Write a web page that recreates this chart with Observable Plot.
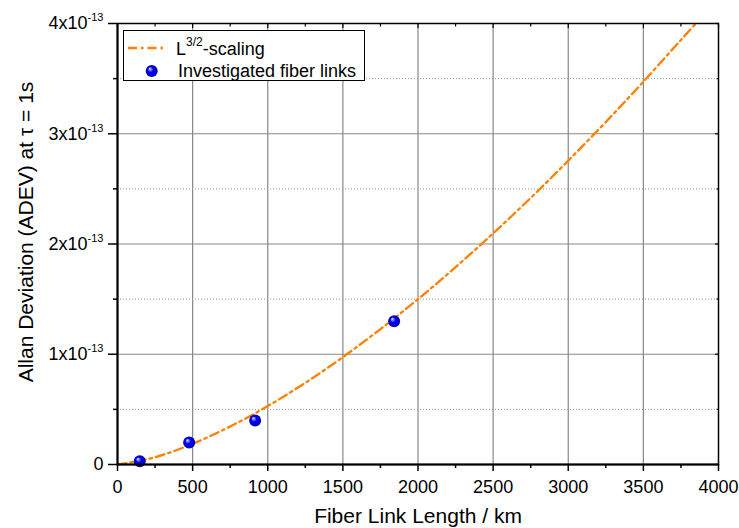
<!DOCTYPE html>
<html><head><meta charset="utf-8">
<script src="https://cdn.jsdelivr.net/npm/d3@7"></script>
<script src="https://cdn.jsdelivr.net/npm/@observablehq/plot@0.6"></script>
<style>
body{margin:0;background:#fff}
#chart{position:relative;width:739px;height:528px}
</style></head><body><div id="chart"></div>
<script>
// Measured fiber links (ADEV in units of 1e-13)
const fiberLengthKm = [148, 477, 916, 1841];
const adevMeasured = [0.03, 0.20, 0.40, 1.30];
// L^(3/2) scaling curve (units of 1e-13)
const scalingLengthKm = [0, 250, 500, 750, 1000, 1250, 1500, 1750, 2000, 2250, 2500, 2750, 3000, 3250, 3500, 3750, 3849];
const scalingAdev = [0, 0.066, 0.188, 0.345, 0.53, 0.741, 0.974, 1.228, 1.50, 1.79, 2.096, 2.418, 2.756, 3.107, 3.472, 3.851, 4.0];
// Ticks
const xMajorTicks = [0, 500, 1000, 1500, 2000, 2500, 3000, 3500, 4000];
const xMinorTicks = [250, 750, 1250, 1750, 2250, 2750, 3250, 3750];
const yMajorTicks = [0, 1, 2, 3, 4];
const yMinorTicks = [0.5, 1.5, 2.5, 3.5];
const yExponent = "-13";
// Text
const xTitle = "Fiber Link Length / km";
const yTitle = "Allan Deviation (ADEV) at \u03c4 = 1s";
const legendCurveParts = ["L", "3/2", "-scaling"];
const legendDotsLabel = "Investigated fiber links";

const orange = "#FF8000";
const dash = "9,4,2.5,4";
const FONT = "'Liberation Sans', Arial, sans-serif";

const measured = fiberLengthKm.map((x, i) => ({x, y: adevMeasured[i]}));
const scaling = scalingLengthKm.map((x, i) => ({x, y: scalingAdev[i]}));

const chart = Plot.plot({
  width: 739, height: 528,
  marginLeft: 117, marginRight: 21, marginTop: 23, marginBottom: 64,
  style: {fontFamily: FONT, fontSize: "18px", background: "white", color: "black"},
  x: {domain: [0, 4000], label: null},
  y: {domain: [0, 4], label: null},
  marks: [
    Plot.gridX(xMajorTicks.slice(1, -1), {stroke: "#888", strokeOpacity: 1, strokeWidth: 1.2}),
    Plot.gridY(yMajorTicks.slice(1, -1), {stroke: "#888", strokeOpacity: 1, strokeWidth: 1.2}),
    Plot.gridY(yMinorTicks, {stroke: "#999", strokeOpacity: 1, strokeWidth: 1, strokeDasharray: "1,2"}),
    Plot.line(scaling, {x: "x", y: "y", stroke: orange, strokeWidth: 2.3, strokeDasharray: dash, curve: "catmull-rom"}),
    Plot.dot(measured, {x: "x", y: "y", r: 6, fill: "url(#sphere)", stroke: null}),
    Plot.frame({stroke: "black", strokeWidth: 1.5}),
    Plot.axisX(xMajorTicks, {anchor: "bottom", tickSize: 7, tickPadding: 9, strokeWidth: 1.5, fontSize: 18, tickFormat: d => String(d), label: null}),
    Plot.axisX(xMinorTicks, {anchor: "bottom", tickSize: 4, strokeWidth: 1.5, tickFormat: () => "", label: null}),
    Plot.axisX(xMajorTicks, {anchor: "top", tickSize: -4, strokeWidth: 1.2, tickFormat: () => "", label: null}),
    Plot.axisX(xMinorTicks, {anchor: "top", tickSize: -2.5, strokeWidth: 1.2, tickFormat: () => "", label: null}),
    Plot.axisY(yMajorTicks, {anchor: "left", tickSize: 9, tickPadding: 5, strokeWidth: 1.5, fontSize: 18, tickFormat: d => d === 0 ? "0" : d + "x10", label: null}),
    Plot.axisY(yMinorTicks, {anchor: "left", tickSize: 4, strokeWidth: 1.5, tickFormat: () => "", label: null}),
    Plot.axisY(yMajorTicks, {anchor: "right", tickSize: -4, strokeWidth: 1.2, tickFormat: () => "", label: null}),
    Plot.axisY(yMinorTicks, {anchor: "right", tickSize: -2.5, strokeWidth: 1.2, tickFormat: () => "", label: null}),
    Plot.ruleX([0], {stroke: "black", strokeWidth: 2}),
    Plot.ruleY([0], {stroke: "black", strokeWidth: 2}),
    Plot.text([xTitle], {frameAnchor: "bottom", dy: 52, fontSize: 21, fill: "black", textAnchor: "middle", lineAnchor: "middle"}),
    Plot.text([yTitle], {frameAnchor: "left", dx: -91, dy: -12, rotate: -90, fontSize: 21, fill: "black", textAnchor: "middle", lineAnchor: "middle"})
  ]
});

const svg = d3.select(chart);
const defs = svg.insert("defs", ":first-child");
const grad = defs.append("radialGradient").attr("id", "sphere")
  .attr("cx", "0.5").attr("cy", "0.5").attr("r", "0.5").attr("fx", "0.33").attr("fy", "0.3");
[[0, "#ffffff"], [0.18, "#8c8cff"], [0.45, "#0000ff"], [1, "#0000a8"]].forEach(([o, c]) =>
  grad.append("stop").attr("offset", o).attr("stop-color", c));

// superscript exponents on y tick labels
svg.selectAll("g[aria-label='y-axis tick label'] text").each(function() {
  const t = d3.select(this);
  if (t.text() && t.text() !== "0") {
    t.append("tspan").attr("dy", "-8").attr("font-size", "11px").text(yExponent);
  }
});

// legend
const lg = svg.append("g").attr("font-family", FONT).attr("font-size", "18px").attr("text-anchor", "start").attr("fill", "black");
lg.append("rect").attr("x", 123.5).attr("y", 30.5).attr("width", 241).attr("height", 50)
  .attr("fill", "white").attr("stroke", "black").attr("stroke-width", 1);
lg.append("line").attr("x1", 128).attr("x2", 166).attr("y1", 48).attr("y2", 48)
  .attr("stroke", orange).attr("stroke-width", 2.3).attr("stroke-dasharray", dash);
const t1 = lg.append("text").attr("x", 176).attr("y", 55).attr("text-anchor", "start");
t1.append("tspan").text(legendCurveParts[0]);
t1.append("tspan").attr("dy", -9).attr("font-size", "12px").text(legendCurveParts[1]);
t1.append("tspan").attr("dy", 9).text(legendCurveParts[2]);
lg.append("circle").attr("cx", 151.7).attr("cy", 71).attr("r", 6).attr("fill", "url(#sphere)");
lg.append("text").attr("x", 178).attr("y", 77).attr("text-anchor", "start").text(legendDotsLabel);

document.getElementById("chart").append(chart);
</script></body></html>
